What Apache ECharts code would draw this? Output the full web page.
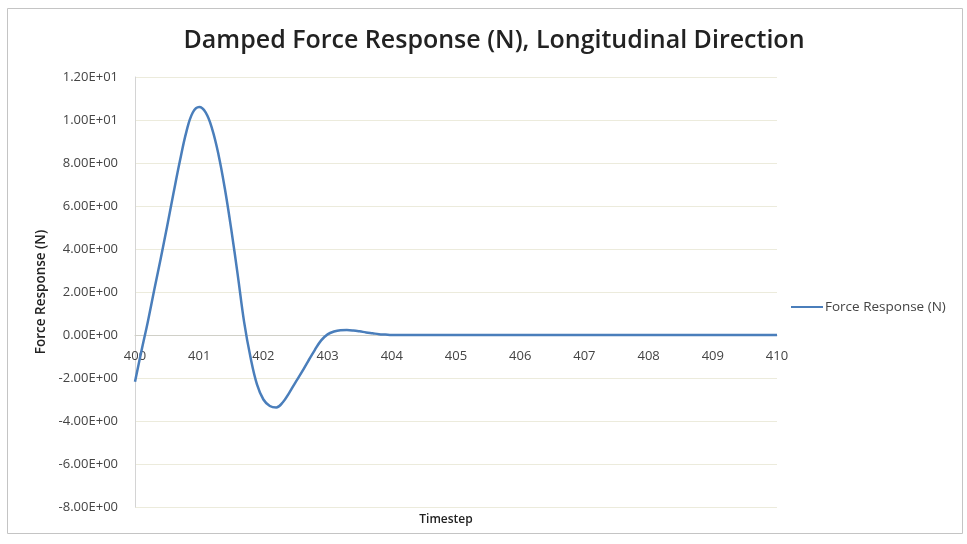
<!DOCTYPE html>
<html>
<head>
<meta charset="utf-8">
<script src="https://cdn.jsdelivr.net/npm/echarts@6/dist/echarts.min.js"></script>
<style>
  html, body { margin: 0; padding: 0; background: #fff; }
  #chart { width: 967px; height: 544px; }
</style>
</head>
<body>
<div id="chart"></div>
<script>
// Timestep samples and the damped force response at each one
const timesteps = [
  400.0, 400.1, 400.2, 400.3, 400.4, 400.5, 400.6, 400.7, 400.8, 400.9,
  401.0, 401.1, 401.2, 401.3, 401.4, 401.5, 401.6, 401.7, 401.8, 401.9,
  402.0, 402.1, 402.2, 402.3, 402.4, 402.5, 402.6, 402.7, 402.8, 402.9,
  403.0, 403.1, 403.2, 403.3, 403.4, 403.5, 403.6, 403.7, 403.8, 403.9,
  404.0, 405.0, 406.0, 407.0, 408.0, 409.0, 410.0
];
const forceResponse = [
  -2.17, -0.75, 0.62, 2.10, 3.55, 5.05, 6.60, 8.10, 9.45, 10.35,
  10.60, 10.35, 9.60, 8.40, 6.80, 4.90, 2.80, 0.60, -1.05, -2.30,
  -3.00, -3.30, -3.37, -3.14, -2.70, -2.20, -1.72, -1.20, -0.70, -0.25,
  0.03, 0.16, 0.22, 0.23, 0.21, 0.17, 0.12, 0.08, 0.04, 0.02,
  0.00, 0.00, 0.00, 0.00, 0.00, 0.00, 0.00
];
const seriesName = 'Force Response (N)';
const chartTitle = 'Damped Force Response (N), Longitudinal Direction';
const xTitle = 'Timestep';
const yTitle = 'Force Response (N)';

// Excel-style scientific notation, e.g. 1.20E+01
function sci(v) {
  if (v === 0) return '0.00E+00';
  const s = Number(v).toExponential(2);
  const parts = s.split('e');
  const exp = parseInt(parts[1], 10);
  const sign = exp < 0 ? '-' : '+';
  const e = String(Math.abs(exp)).padStart(2, '0');
  return parts[0] + 'E' + sign + e;
}

const yMin = -8, yMax = 12;
const gridBox = { left: 135, right: 190, top: 77, bottom: 37 };
const plotHeight = 544 - gridBox.top - gridBox.bottom;
// the horizontal axis crosses the vertical one at zero
const xAxisLift = -plotHeight * (0 - yMin) / (yMax - yMin);

const font = '"Open Sans", "Noto Sans", sans-serif';
const chart = echarts.init(document.getElementById('chart'));
chart.setOption({
  backgroundColor: '#ffffff',
  animation: false,
  title: {
    text: chartTitle,
    left: 489, top: 23, textAlign: 'center',
    textStyle: { fontFamily: font, fontSize: 25, fontWeight: 600, color: '#222' }
  },
  graphic: [
    {
      type: 'rect', silent: true,
      shape: { x: 7.5, y: 8.5, width: 955, height: 525 },
      style: { fill: 'none', stroke: '#c4c4c4', lineWidth: 1 }
    },
    {
      type: 'text', x: 446, y: 520,
      style: {
        text: xTitle, fontFamily: font, fontSize: 12, fontWeight: 600, fill: '#222',
        align: 'center', verticalAlign: 'middle'
      }
    }
  ],
  legend: {
    left: 786, top: 295,
    itemWidth: 32, itemHeight: 14, itemGap: 4,
    data: [{ name: seriesName, icon: 'path://M0,6 L32,6 L32,8 L0,8 Z' }],
    textStyle: { fontFamily: font, fontSize: 13.5, color: '#444', padding: [0, 0, 0, -3] }
  },
  grid: Object.assign({ containLabel: false }, gridBox),
  xAxis: {
    type: 'value', min: 400, max: 410, interval: 1,
    offset: xAxisLift,
    axisLine: { onZero: false, lineStyle: { color: '#d0d0c8', width: 1 } },
    axisTick: { show: false },
    axisLabel: { margin: 15, fontFamily: font, fontSize: 13, color: '#444' },
    splitLine: { show: false }
  },
  yAxis: {
    type: 'value', min: yMin, max: yMax, interval: 2,
    name: yTitle, nameLocation: 'middle', nameGap: 86, nameRotate: 90,
    nameTextStyle: { fontFamily: font, fontSize: 13.5, fontWeight: 600, color: '#222' },
    axisLine: { show: true, onZero: false, lineStyle: { color: '#d4d4d4', width: 1 } },
    axisTick: { show: false },
    axisLabel: { margin: 17, fontFamily: font, fontSize: 13, color: '#444', formatter: sci },
    splitLine: { show: true, lineStyle: { color: '#ecebdc', width: 1 } }
  },
  series: [{
    name: seriesName,
    type: 'line',
    data: timesteps.map((t, i) => [t, forceResponse[i]]),
    smooth: 0.4,
    symbol: 'none',
    lineStyle: { color: '#4a7ebb', width: 2.5 },
    itemStyle: { color: '#4a7ebb' }
  }]
});
</script>
</body>
</html>
